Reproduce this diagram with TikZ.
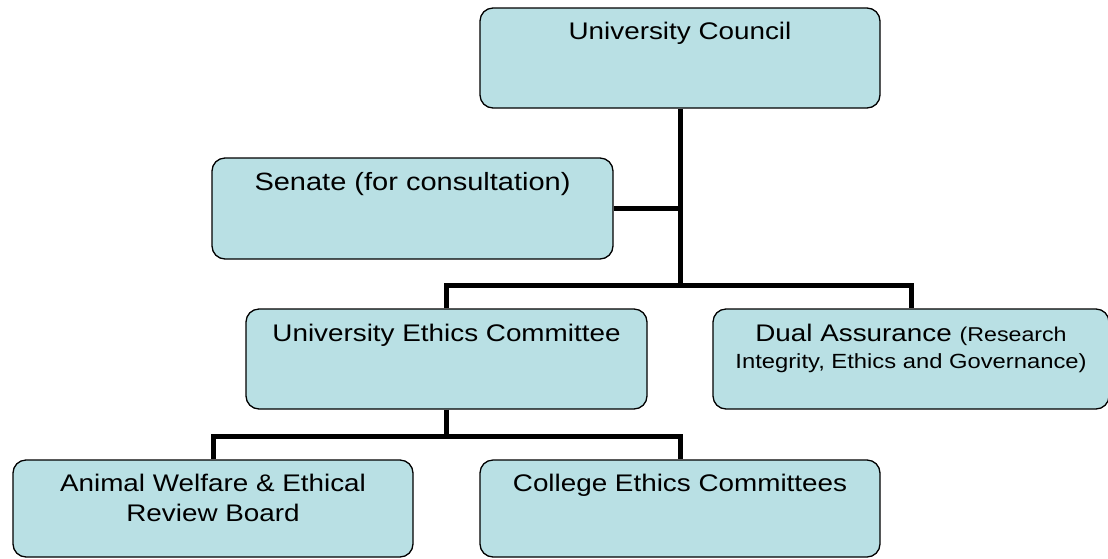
\documentclass[tikz,border=0pt]{standalone}
\usepackage{fontspec}
\setmainfont{Liberation Sans}[FakeStretch=1.16]
\usetikzlibrary{calc}
\definecolor{boxblue}{RGB}{185,224,228}
\tikzset{
  orgbox/.style={draw=black, line width=1.3pt, fill=boxblue, rounded corners=13pt,
    inner sep=0pt, minimum width=#1},
  orgbox/.default=400pt,
  lbl/.style={anchor=base, inner sep=0pt, align=center, font=\fontsize{24}{30}\selectfont},
  conn/.style={draw=black, line width=5pt}
}
\begin{document}
\begin{tikzpicture}[x=1pt,y=-1pt]
\useasboundingbox (0,0) rectangle (1108,558);
% boxes
\node[orgbox, minimum height=100pt] (council) at (680,58) {};
\node[orgbox=401pt, minimum height=101pt] (senate) at (412.5,208.5) {};
\node[orgbox=401pt, minimum height=100pt] (uec) at (446.5,359) {};
\node[orgbox=396pt, minimum height=100pt] (dual) at (911,359) {};
\node[orgbox, minimum height=97pt] (animal) at (213,508.5) {};
\node[orgbox, minimum height=97pt] (college) at (680,508.5) {};
% connectors
\coordinate (j1) at (council.south |- 0,285);
\coordinate (j2) at (uec.south |- 0,436);
\draw[conn] (council.south) -- (j1);
\draw[conn] (senate.east) -- (senate.east -| council.south);
\draw[conn] (uec.north) |- (j1) -| (dual.north);
\draw[conn] (uec.south) -- (j2);
\draw[conn] (animal.north) |- (j2) -| (college.north);
% labels
\node[lbl] (tcouncil) at ($(council.north)+(0,32)$) {University Council};
\node[lbl, font=\fontsize{25}{30}\selectfont] (tsenate) at ($(senate.north)+(0,33)$) {Senate (for consultation)};
\node[lbl] (tuec) at ($(uec.north)+(0,33)$) {University Ethics Committee};
\node[lbl] (tdual) at ($(dual.north)+(0,60)$) {Dual Assurance {\fontsize{20}{27}\selectfont (Research}\\[-3pt]{\fontsize{20.5}{27}\selectfont Integrity, Ethics and Governance)}};
\node[lbl] (tanimal) at ($(animal.north)+(0,62)$) {Animal Welfare \& Ethical\\Review Board};
\node[lbl] (tcollege) at ($(college.north)+(0,32)$) {College Ethics Committees};
\end{tikzpicture}
\end{document}
